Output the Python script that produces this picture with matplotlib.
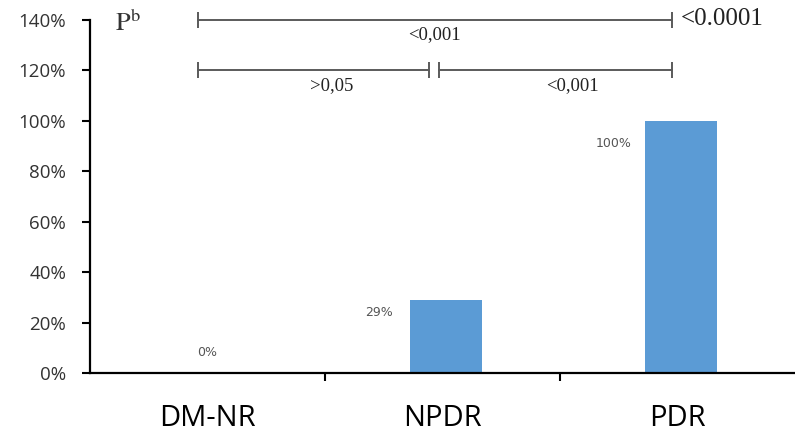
import numpy as np
import matplotlib.pyplot as plt
from matplotlib.ticker import FuncFormatter

plt.rcParams['mathtext.fontset'] = 'stix'

# Share of patients per retinopathy group
categories = ['DM-NR', 'NPDR', 'PDR']
values = [0, 29, 100]

# Pairwise comparisons: bracket start/end (category index), level (%), p-value text
bracket_start = [-0.04, -0.04, 0.985]
bracket_end = [1.975, 0.945, 1.975]
bracket_level = [140, 120, 120]
bracket_text = ['<0,001', '>0,05', '<0,001']
overall_p = '<0.0001'

bar_color = '#5B9BD5'
line_color = '#5a5a5a'

fig = plt.figure(figsize=(7.95, 4.41), dpi=100)
ax = fig.add_axes([0.113, 0.154, 0.887, 0.801])

x = np.arange(len(categories))
ax.bar(x + 0.015, values, width=0.305, color=bar_color, zorder=2)

# value labels sit to the upper left of each bar
for i, v in enumerate(values):
    if v == 0:
        ax.text(i, v + 8, f'{v}%', ha='center', va='center', fontsize=9, color='#555555')
    else:
        ax.text(i - 0.27, v - 3.5 - 0.055 * v, f'{v}%', ha='center', va='center',
                fontsize=9, color='#555555')

# significance brackets
for s, e, lvl, txt in zip(bracket_start, bracket_end, bracket_level, bracket_text):
    ax.plot([s, e], [lvl, lvl], color=line_color, lw=1.4, clip_on=False, zorder=3)
    ax.plot([s, e], [lvl, lvl], ls='none', marker='|', ms=11, mew=1.4,
            color=line_color, clip_on=False, zorder=3)
    mid = (s + e) / 2
    if lvl < max(bracket_level):
        mid += 0.075
    ax.text(mid, lvl - 6, txt, ha='center', va='center', fontsize=13.5,
            family='Liberation Serif', color='#222222')

ax.text(max(bracket_end) + 0.04, max(bracket_level) + 0.5, overall_p, ha='left', va='center',
        fontsize=18, family='Liberation Serif', color='#222222', clip_on=False)
ax.text(-0.34, 138.5, r'$\mathrm{P}^{\mathrm{b}}$', ha='center', va='center', fontsize=19,
        color='#333333', clip_on=False)

ax.set_xlim(-0.5, 2.5)
ax.set_ylim(0, 140)
ax.set_yticks(np.arange(0, 141, 20))
ax.yaxis.set_major_formatter(FuncFormatter(lambda v, p: f'{v:.0f}%'))
ax.tick_params(axis='y', labelsize=13.5, length=6, width=1.5, direction='out',
               colors='black', pad=11)

ax.set_xticks(x)
ax.set_xticklabels(categories, fontsize=21, family='Open Sans')
ax.tick_params(axis='x', length=0, pad=22)
ax.set_xticks([0.5, 1.5], minor=True)
ax.tick_params(axis='x', which='minor', length=6, width=1.5, direction='out')

for side in ['top', 'right']:
    ax.spines[side].set_visible(False)
for side in ['left', 'bottom']:
    ax.spines[side].set_linewidth(1.6)

for lbl in ax.get_yticklabels():
    lbl.set_family('Open Sans')
    lbl.set_color('#333333')

fig.savefig('out.png', dpi=100)
